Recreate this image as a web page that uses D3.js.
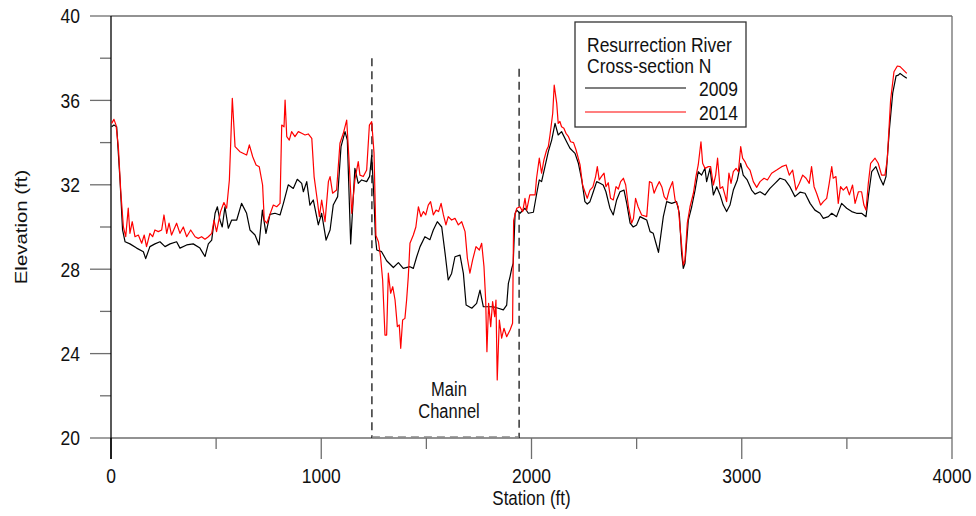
<!DOCTYPE html>
<html><head><meta charset="utf-8">
<script src="https://cdn.jsdelivr.net/npm/d3@7"></script>
<style>
body{margin:0;background:#fff;}
svg{display:block;font-family:"Liberation Sans",Arial,sans-serif;}
</style></head>
<body><svg id="c" width="976" height="516"></svg>
<script>
const station2009 = [3,14,27,43,55,67,90,122,154,165,185,209,233,257,281,312,328,360,391,423,447,463,479,495,506,518,529,542,558,574,598,621,645,661,685,704,720,737,756,780,804,820,843,867,886,907,915,931,946,962,986,1002,1023,1042,1057,1078,1094,1113,1124,1140,1160,1176,1192,1216,1230,1240,1250,1258,1264,1272,1287,1311,1343,1367,1390,1422,1438,1454,1470,1493,1517,1533,1552,1573,1589,1604,1620,1636,1660,1676,1689,1716,1739,1755,1771,1794,1818,1842,1866,1882,1890,1898,1906,1913,1922,1930,1945,1969,1985,2009,2025,2037,2048,2064,2080,2096,2112,2127,2143,2167,2183,2207,2223,2239,2254,2265,2278,2294,2310,2326,2341,2354,2373,2389,2405,2421,2440,2453,2469,2484,2500,2516,2532,2548,2564,2579,2592,2604,2615,2627,2643,2667,2690,2703,2714,2722,2730,2746,2762,2778,2793,2809,2825,2833,2849,2865,2881,2897,2912,2928,2944,2960,2979,2995,3007,3026,3047,3063,3087,3111,3134,3158,3182,3206,3229,3253,3277,3301,3325,3348,3372,3388,3412,3428,3451,3475,3499,3523,3546,3570,3591,3602,3618,3638,3658,3673,3686,3702,3718,3734,3745,3753,3769,3785];
const elev2009 = [34.75,34.83,34.75,32.2,29.86,29.3,29.2,29.0,28.83,28.5,29.07,29.2,29.3,29.07,29.2,29.3,29.0,29.15,29.2,29.0,28.6,29.2,29.38,30.65,30.96,30.33,30.0,30.96,29.94,30.33,30.33,31.12,30.65,29.86,29.62,29.15,30.8,29.7,30.6,30.65,30.57,31.12,32.0,31.83,32.26,32.07,31.67,32.15,31.04,31.28,30.1,30.65,29.38,29.86,31.04,31.44,33.81,34.52,34.12,29.2,32.78,32.07,32.23,32.15,32.4,33.4,31.5,29.5,28.91,28.88,28.83,28.4,28.08,28.31,28.04,28.12,28.04,28.59,29.07,29.54,29.4,29.86,30.25,30.0,28.75,27.49,27.8,28.59,28.67,27.8,26.3,26.15,26.38,27.01,26.22,26.22,26.22,26.15,26.07,26.3,27.33,27.65,28.04,28.28,30.65,30.8,30.65,30.89,30.65,30.7,31.6,32.23,32.15,32.86,33.57,34.12,34.91,34.36,34.52,34.04,33.73,33.49,33.02,32.23,31.2,31.09,31.2,31.67,32.15,32.07,31.99,31.67,30.89,30.57,31.28,31.67,31.75,31.12,30.18,30.0,30.1,30.49,30.41,30.33,29.78,29.7,29.23,28.8,29.6,30.49,31.2,31.12,31.2,30.65,28.75,28.04,28.28,30.33,30.96,31.75,32.62,32.46,32.78,32.15,32.78,31.52,31.91,31.52,31.04,30.73,31.04,31.75,32.23,33.02,32.46,32.23,31.75,31.56,31.67,31.52,31.83,32.07,32.31,32.23,31.91,31.44,31.65,31.6,31.12,30.8,30.65,30.41,30.49,30.65,30.49,31.12,30.89,30.73,30.65,30.65,30.49,31.44,32.62,32.86,32.31,31.99,32.39,34.6,36.34,37.16,37.2,37.28,37.16,37.05];

const station2014 = [3,14,24,35,46,59,70,82,90,101,114,130,146,158,169,185,198,209,225,241,252,265,276,288,312,328,344,360,379,400,415,431,447,463,479,490,502,521,537,550,563,577,590,613,645,658,674,690,705,721,729,741,756,772,788,804,812,823,828,836,848,859,875,891,907,923,938,955,966,981,991,1002,1018,1034,1042,1054,1073,1089,1105,1121,1132,1145,1160,1176,1184,1200,1216,1229,1240,1251,1260,1272,1282,1292,1303,1311,1319,1330,1340,1351,1362,1371,1378,1387,1398,1406,1414,1422,1438,1450,1462,1474,1486,1497,1509,1520,1533,1546,1558,1570,1581,1593,1604,1620,1636,1652,1668,1684,1695,1707,1720,1736,1752,1763,1774,1782,1788,1796,1806,1815,1825,1831,1837,1847,1858,1869,1882,1898,1910,1915,1922,1930,1945,1958,1969,1977,1992,2017,2024,2037,2048,2059,2072,2080,2088,2101,2108,2120,2127,2135,2143,2154,2164,2175,2186,2200,2212,2231,2243,2254,2265,2278,2292,2305,2313,2322,2333,2345,2354,2365,2376,2389,2402,2413,2424,2437,2448,2461,2476,2485,2495,2507,2524,2548,2561,2572,2583,2595,2608,2620,2631,2643,2655,2671,2683,2698,2709,2722,2730,2741,2754,2770,2782,2793,2806,2814,2825,2841,2852,2865,2876,2885,2897,2909,2920,2928,2939,2949,2960,2973,2984,2995,3004,3015,3026,3039,3055,3071,3087,3106,3122,3142,3166,3190,3211,3226,3242,3258,3274,3290,3306,3321,3332,3344,3356,3375,3388,3404,3416,3428,3435,3448,3459,3470,3483,3499,3512,3527,3539,3555,3570,3581,3591,3602,3613,3634,3649,3665,3681,3692,3708,3724,3740,3753,3785];
const elev2014 = [34.91,35.1,34.83,33.8,31.75,30.0,29.54,30.89,29.7,30.25,29.54,29.62,29.23,29.62,29.07,29.7,29.54,29.86,29.78,29.86,30.57,29.7,30.18,29.62,30.18,29.7,30.0,29.54,29.86,29.54,29.46,29.54,29.42,29.54,29.7,30.33,29.78,30.73,31.16,30.89,32.23,36.1,33.81,33.57,33.41,33.89,33.33,32.94,32.86,31.99,30.33,30.18,30.6,31.04,30.96,31.12,34.83,34.75,36.02,34.28,34.12,34.52,34.28,34.52,34.44,34.36,34.41,34.2,32.39,31.28,30.49,31.28,30.25,32.15,32.39,31.6,31.75,33.97,34.44,35.07,33.18,30.65,32.23,33.1,32.46,32.39,32.7,34.83,34.99,33.5,29.6,29.3,28.59,27.49,24.88,24.88,27.81,26.86,27.17,26.54,25.28,25.36,24.25,25.59,25.67,26.54,27.65,29.23,29.62,30.0,30.96,30.49,30.73,30.57,31.04,31.2,30.57,30.8,30.73,31.12,30.57,30.1,30.49,30.33,30.41,30.1,30.25,29.78,28.52,27.81,28.44,29.07,28.91,29.23,28.12,26.54,24.09,26.38,25.28,26.46,25.75,26.54,22.75,25.59,24.73,25.2,24.8,25.12,25.44,30.3,30.6,30.89,30.96,30.73,31.36,30.8,31.52,31.52,32.31,33.26,32.55,33.18,33.65,33.81,34.36,35.39,36.73,35.86,34.91,35.0,34.75,34.68,34.44,34.3,34.04,34.0,33.65,32.94,31.99,31.67,31.36,31.75,31.9,32.39,32.86,32.23,32.4,32.55,31.91,32.1,31.36,31.28,31.91,31.8,32.15,32.31,31.99,30.96,30.18,30.4,31.36,30.96,30.57,30.49,32.15,32.1,31.6,31.9,32.15,31.9,31.44,31.28,31.75,32.15,31.28,30.96,29.7,28.2,28.44,30.18,30.96,31.6,32.39,32.94,34.04,33.02,32.78,32.86,32.86,31.99,32.46,33.26,31.83,31.91,31.52,31.2,32.55,32.07,32.62,32.78,32.62,33.81,33.26,33.1,32.86,32.7,32.15,31.88,32.15,32.31,32.23,32.55,32.7,32.86,32.94,32.46,32.7,31.75,32.07,32.46,32.31,32.07,32.86,31.91,31.6,31.04,31.2,31.36,32.07,32.86,32.31,32.39,31.12,31.91,31.75,31.91,31.52,31.99,31.12,31.67,31.67,31.04,30.8,32.07,33.02,33.26,33.02,32.46,32.46,33.18,36.02,37.36,37.63,37.6,37.28];

const xMajor = [0,1000,2000,3000,4000];
const xMinor = [500,1500,2500,3500];
const yMajor = [20,24,28,32,36,40];
const yMinor = [22,26,30,34,38];
const channelBounds = [1241, 1941];
const channelTops = [38.0, 37.5];
const legendTitle = ["Resurrection River","Cross-section N"];
const seriesNames = ["2009","2014"];
const seriesColors = ["#000000","#ff0000"];

const svg = d3.select("#c");
const x = d3.scaleLinear().domain([0,4000]).range([111,952]);
const y = d3.scaleLinear().domain([20,40]).range([438,16]);
const SY = 1.2, FS = 17.5;
const frame = "#6e6e6e";

function stext(g, tx, ty, str, anchor, size){
  return g.append("g").attr("transform",`translate(${tx},${ty}) scale(1,${SY})`)
    .append("text").attr("text-anchor",anchor).attr("dy","0.35em")
    .attr("font-size",size||FS).attr("fill","#111").text(str);
}

// frame lines (top, right, bottom)
svg.append("line").attr("x1",x(0)).attr("x2",x(4000)).attr("y1",y(40)).attr("y2",y(40)).attr("stroke",frame).attr("stroke-width",1.3);
svg.append("line").attr("x1",x(4000)).attr("x2",x(4000)).attr("y1",y(40)).attr("y2",y(20)).attr("stroke",frame).attr("stroke-width",1.3);
svg.append("line").attr("x1",x(0)).attr("x2",x(4000)).attr("y1",y(20)).attr("y2",y(20)).attr("stroke",frame).attr("stroke-width",1.3);

// y ticks
const gy = svg.append("g");
yMajor.forEach(v=>{
  gy.append("line").attr("x1",x(0)-21).attr("x2",x(0)).attr("y1",y(v)).attr("y2",y(v)).attr("stroke",frame).attr("stroke-width",1.3);
  stext(gy, 80, y(v), String(v), "end");
});
yMinor.forEach(v=>{
  gy.append("line").attr("x1",x(0)-11).attr("x2",x(0)).attr("y1",y(v)).attr("y2",y(v)).attr("stroke",frame).attr("stroke-width",1.3);
});
// x ticks
const gx = svg.append("g");
xMajor.forEach(v=>{
  gx.append("line").attr("x1",x(v)).attr("x2",x(v)).attr("y1",y(20)).attr("y2",y(20)+21).attr("stroke",v===0?"#000":frame).attr("stroke-width",1.3);
  stext(gx, x(v), 476, String(v), "middle");
});
xMinor.forEach(v=>{
  gx.append("line").attr("x1",x(v)).attr("x2",x(v)).attr("y1",y(20)).attr("y2",y(20)+11).attr("stroke",frame).attr("stroke-width",1.3);
});
// left axis line
svg.append("line").attr("x1",x(0)).attr("x2",x(0)).attr("y1",y(40)).attr("y2",y(20)+21).attr("stroke","#000").attr("stroke-width",1.3);

// axis titles
stext(svg, (x(0)+x(4000))/2, 498, "Station (ft)", "middle", 17);
svg.append("g").attr("transform",`translate(21,${(y(20)+y(40))/2}) scale(1,${SY}) rotate(-90)`)
  .append("text").attr("text-anchor","middle").attr("dy","0.35em").attr("font-size",17).attr("fill","#111").text("Elevation (ft)");

// main channel markers
channelBounds.forEach((s,i)=>{
  svg.append("line").attr("x1",x(s)).attr("x2",x(s)).attr("y1",y(channelTops[i])).attr("y2",y(20))
    .attr("stroke","#000").attr("stroke-width",1.2).attr("stroke-dasharray","8,5");
});
svg.append("line").attr("x1",x(channelBounds[0])).attr("x2",x(channelBounds[1])).attr("y1",y(20)-1).attr("y2",y(20)-1)
  .attr("stroke","#888").attr("stroke-width",1.3).attr("stroke-dasharray","8,5");
const cx = 449;
stext(svg, cx, 389, "Main", "middle", 16.5);
stext(svg, cx, 411, "Channel", "middle", 16.5);

// lines
const line = d3.line().x(d=>x(d[0])).y(d=>y(d[1]));
const d2009 = station2009.map((s,i)=>[s,elev2009[i]]);
const d2014 = station2014.map((s,i)=>[s,elev2014[i]]);
svg.append("path").datum(d2009).attr("d",line).attr("fill","none").attr("stroke",seriesColors[0]).attr("stroke-width",1.2).attr("stroke-linejoin","round");
svg.append("path").datum(d2014).attr("d",line).attr("fill","none").attr("stroke",seriesColors[1]).attr("stroke-width",1.2).attr("stroke-linejoin","round");

// legend
const lg = svg.append("g");
lg.append("rect").attr("x",575).attr("y",22).attr("width",171).attr("height",105).attr("fill","#fff").attr("stroke","#333").attr("stroke-width",1.3);
stext(lg, 587, 45, legendTitle[0], "start");
stext(lg, 587, 66, legendTitle[1], "start");
[88,112].forEach((ly,i)=>{
  lg.append("line").attr("x1",585).attr("x2",686).attr("y1",ly).attr("y2",ly).attr("stroke",seriesColors[i]).attr("stroke-width",1.2);
  stext(lg, 738, ly+1, seriesNames[i], "end");
});
</script></body></html>
